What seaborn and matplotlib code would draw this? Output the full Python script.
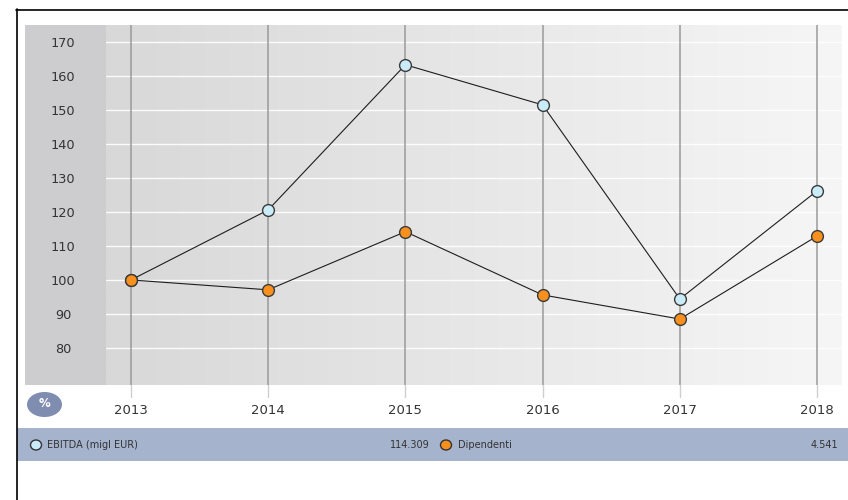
import numpy as np
import pandas as pd
import matplotlib
matplotlib.use("Agg")
import matplotlib.pyplot as plt
from matplotlib.patches import Rectangle, Ellipse
from matplotlib.colors import LinearSegmentedColormap
import seaborn as sns

years = [2013, 2014, 2015, 2016, 2017, 2018]
ebitda = [100.0, 120.6, 163.3, 151.5, 94.4, 126.2]
dipendenti = [100.0, 97.1, 114.2, 95.6, 88.5, 112.9]
yticks = [80, 90, 100, 110, 120, 130, 140, 150, 160, 170]
legend_names = ["EBITDA (migl EUR)", "Dipendenti"]
legend_values = ["114.309", "4.541"]
colors = ["#c9ecf8", "#f7901e"]

sns.set_theme(style="white")
plt.rcParams['font.family'] = ['DejaVu Sans']

W, H = 848, 500
fig = plt.figure(figsize=(W / 100, H / 100), dpi=100)
fig.patch.set_facecolor("white")

def fx(px):
    return px / W

def fy(py):
    return 1 - py / H

# border
fig.add_artist(plt.Line2D([fx(16.5), fx(16.5)], [fy(9), fy(500)], color="black", lw=1.2, transform=fig.transFigure))
fig.add_artist(plt.Line2D([fx(16), fx(848)], [fy(9.5), fy(9.5)], color="black", lw=1.2, transform=fig.transFigure))

# left gray band for y labels
fig.add_artist(Rectangle((fx(25), fy(385)), fx(106 - 25), (385 - 25) / H, transform=fig.transFigure,
                         facecolor="#cdcdcf", edgecolor="none", zorder=0))

# legend bar
fig.add_artist(Rectangle((fx(17), fy(461)), fx(848 - 17), (461 - 428) / H, transform=fig.transFigure,
                         facecolor="#a6b3cd", edgecolor="none", zorder=0))

ax = fig.add_axes([fx(106), fy(385), fx(842 - 106), (385 - 25) / H])
x0, x1 = 2012.818, 2018.182
y0, y1 = 69.1, 175.0
ax.set_xlim(x0, x1)
ax.set_ylim(y0, y1)

# gradient background
grad = np.linspace(0, 1, 256).reshape(1, -1)
cmap = LinearSegmentedColormap.from_list("g", ["#d8d8d8", "#f6f6f6"])
ax.imshow(grad, extent=[x0, x1, y0, y1], aspect="auto", cmap=cmap, zorder=0)

for s in ax.spines.values():
    s.set_visible(False)

for yv in yticks:
    ax.axhline(yv, color="white", lw=1.0, alpha=0.9, zorder=1)

for xv in years:
    ax.plot([xv, xv], [y1, y0], color="#9a9a9a", lw=1.1, zorder=2)
    ax.plot([xv, xv], [y0, y0 - 3.5], color="#cfcfcf", lw=1.0, zorder=2, clip_on=False)

df = pd.DataFrame({"year": years * 2,
                   "value": ebitda + dipendenti,
                   "serie": [legend_names[0]] * len(years) + [legend_names[1]] * len(years)})

for name, col in zip(legend_names, colors):
    sub = df[df["serie"] == name]
    sns.lineplot(data=sub, x="year", y="value", ax=ax, color="#1e1e1e", lw=0.8, zorder=3,
                 legend=False)
    sns.scatterplot(data=sub, x="year", y="value", ax=ax, color=col, s=72, edgecolor="#3a3a3a",
                    linewidth=1.0, zorder=4, legend=False)

ax.set_xlabel("")
ax.set_ylabel("")
ax.set_xticks(years)
ax.set_xticklabels([str(y) for y in years], fontsize=9.5, color="#333333")
ax.tick_params(axis="x", length=0, pad=14)
ax.set_yticks(yticks)
ax.set_yticklabels([str(v) for v in yticks], fontsize=9.3, color="#333333")
ax.tick_params(axis="y", length=0, pad=31)
for lbl in ax.get_yticklabels():
    lbl.set_horizontalalignment("center")

# % badge
fig.add_artist(Ellipse((fx(44.5), fy(404.5)), fx(35), 25 / H, transform=fig.transFigure,
                       facecolor="#7f8db0", edgecolor="none"))
fig.text(fx(44.5), fy(403.5), "%", ha="center", va="center", color="white", fontsize=8.5, fontweight="bold")

# legend entries
ly = fy(445)
fig.add_artist(Ellipse((fx(36), ly), fx(11), 10 / H, transform=fig.transFigure,
                       facecolor=colors[0], edgecolor="#333333", lw=1.0))
fig.text(fx(47), ly, legend_names[0], ha="left", va="center", fontsize=7, color="#333333")
fig.text(fx(430), ly, legend_values[0], ha="right", va="center", fontsize=7, color="#333333")
fig.add_artist(Ellipse((fx(446), ly), fx(11), 10 / H, transform=fig.transFigure,
                       facecolor=colors[1], edgecolor="#333333", lw=1.0))
fig.text(fx(458), ly, legend_names[1], ha="left", va="center", fontsize=7, color="#333333")
fig.text(fx(838), ly, legend_values[1], ha="right", va="center", fontsize=7, color="#333333")

fig.savefig("out.png", dpi=100)
